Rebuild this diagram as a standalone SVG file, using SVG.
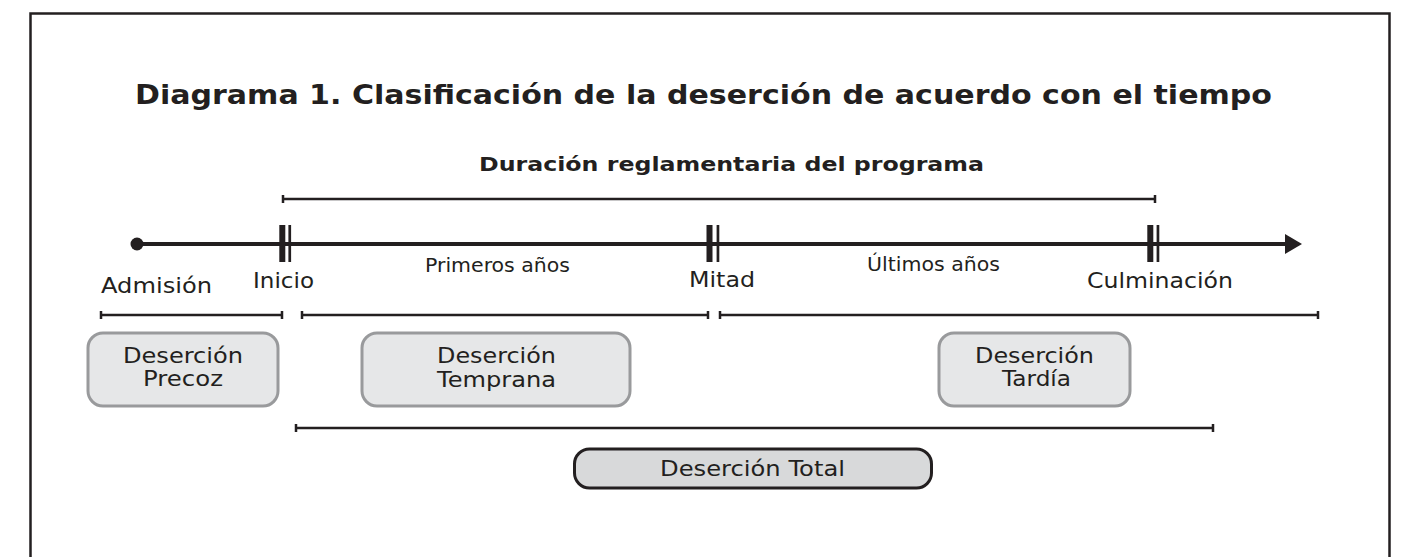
<svg xmlns="http://www.w3.org/2000/svg" width="1406" height="557" viewBox="0 0 1406 557">
<defs>
<style>
.t{font-family:"DejaVu Sans","Open Sans",sans-serif;fill:#231f20}
.b{font-weight:bold}
.lbl{font-size:22px}
.sm{font-size:19px}
.box{fill:#e6e7e8;stroke:#999a9c;stroke-width:3}
.tot{fill:#d8d9da;stroke:#231f20;stroke-width:3}
.br{stroke:#231f20;stroke-width:2.5;fill:none}
.ax{stroke:#231f20;stroke-width:4;fill:none}
.bar{fill:#231f20}
</style>
</defs>
<rect x="30.5" y="13.5" width="1359" height="560" fill="#fff" stroke="#231f20" stroke-width="2.5"/>
<text class="t b" x="135" y="104" font-size="27" textLength="1137" lengthAdjust="spacingAndGlyphs">Diagrama 1. Clasificación de la deserción de acuerdo con el tiempo</text>
<text class="t b" x="479" y="171" font-size="19.5" textLength="505" lengthAdjust="spacingAndGlyphs">Duración reglamentaria del programa</text>
<g id="connectors">
<path class="br" d="M283 199H1155M283 195V203M1155 195V203"/>
<path class="ax" d="M137 244H1287"/>
<circle cx="137" cy="244" r="6.5" fill="#231f20"/>
<path d="M1285 234L1302 244L1285 254Z" fill="#231f20"/>
<path class="br" d="M101 315H282M101 311V319M282 311V319"/>
<path class="br" d="M302 315H708M302 311V319M708 311V319"/>
<path class="br" d="M720 315H1318M720 311V319M1318 311V319"/>
<path class="br" d="M296 428H1213M296 424V432M1213 424V432"/>
</g>
<g id="admision"><text class="t lbl" x="101" y="293" textLength="111" lengthAdjust="spacingAndGlyphs">Admisión</text></g>
<g id="inicio">
<rect class="bar" x="279.3" y="225" width="6" height="37"/>
<rect class="bar" x="288.4" y="225" width="2.7" height="37"/>
<text class="t lbl" x="253" y="288" textLength="61" lengthAdjust="spacingAndGlyphs">Inicio</text>
</g>
<g id="mitad">
<rect class="bar" x="706.5" y="225" width="6" height="37"/>
<rect class="bar" x="716.6" y="225" width="2.7" height="37"/>
<text class="t lbl" x="689" y="287" textLength="66" lengthAdjust="spacingAndGlyphs">Mitad</text>
</g>
<g id="culminacion">
<rect class="bar" x="1147.3" y="225" width="6" height="37"/>
<rect class="bar" x="1156.6" y="225" width="2.7" height="37"/>
<text class="t lbl" x="1087" y="288" textLength="146" lengthAdjust="spacingAndGlyphs">Culminación</text>
</g>
<g id="primeros"><text class="t sm" x="425" y="272" textLength="145" lengthAdjust="spacingAndGlyphs">Primeros años</text></g>
<g id="ultimos"><text class="t sm" x="867" y="271" textLength="133" lengthAdjust="spacingAndGlyphs">Últimos años</text></g>
<g id="precoz">
<rect class="box" x="88" y="333" width="190" height="73" rx="15"/>
<text class="t lbl" x="123" y="363" textLength="120" lengthAdjust="spacingAndGlyphs">Deserción</text>
<text class="t lbl" x="143" y="386" textLength="80" lengthAdjust="spacingAndGlyphs">Precoz</text>
</g>
<g id="temprana">
<rect class="box" x="362" y="333" width="268" height="73" rx="15"/>
<text class="t lbl" x="437" y="363" textLength="119" lengthAdjust="spacingAndGlyphs">Deserción</text>
<text class="t lbl" x="437" y="387" textLength="119" lengthAdjust="spacingAndGlyphs">Temprana</text>
</g>
<g id="tardia">
<rect class="box" x="939" y="333" width="191" height="73" rx="15"/>
<text class="t lbl" x="975" y="363" textLength="119" lengthAdjust="spacingAndGlyphs">Deserción</text>
<text class="t lbl" x="1002" y="386" textLength="69" lengthAdjust="spacingAndGlyphs">Tardía</text>
</g>
<g id="total">
<rect class="tot" x="574.5" y="449" width="357" height="39" rx="15"/>
<text class="t lbl" x="660" y="476" textLength="185" lengthAdjust="spacingAndGlyphs">Deserción Total</text>
</g>
</svg>
